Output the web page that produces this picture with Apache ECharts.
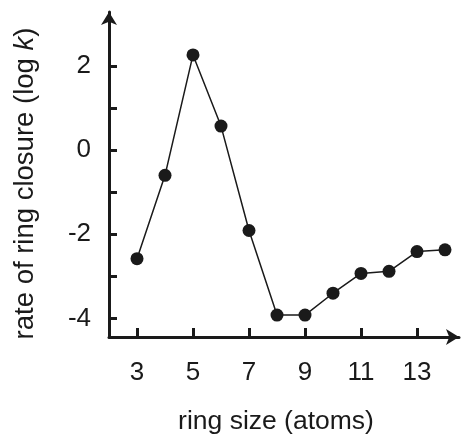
<!DOCTYPE html>
<html>
<head>
<meta charset="utf-8">
<script src="https://cdn.jsdelivr.net/npm/echarts@6/dist/echarts.min.js"></script>
<style>html,body{margin:0;padding:0;background:#fff;}#c{width:461px;height:440px;}</style>
</head>
<body>
<div id="c"></div>
<script>
const ringSize = [3, 4, 5, 6, 7, 8, 9, 10, 11, 12, 13, 14];
const logK = [-2.58, -0.6, 2.26, 0.57, -1.91, -3.92, -3.92, -3.40, -2.93, -2.88, -2.41, -2.37];
const xTickValues = [3, 5, 7, 9, 11, 13];
const yTickValues = [-4, -3, -2, -1, 0, 1, 2];
const yLabelValues = [-4, -2, 0, 2];
const xTitle = 'ring size (atoms)';
const yTitle = 'rate of ring closure (log {i|k})';

const ink = '#1a1a1a';
const font = 'Liberation Sans, Arial, sans-serif';
const chart = echarts.init(document.getElementById('c'));
chart.setOption({
  animation: false,
  grid: { left: 109, right: 2, top: 12, bottom: 96, containLabel: false },
  xAxis: {
    type: 'value', min: 2, max: 14.5,
    name: xTitle, nameLocation: 'middle', nameGap: 71,
    nameTextStyle: { fontFamily: font, fontSize: 26.5, color: ink, padding: [0, 16, 0, 0] },
    axisLine: { show: true, onZero: false, symbol: ['none', 'arrow'], symbolSize: [12, 13], lineStyle: { color: ink, width: 3 } },
    axisTick: { show: true, inside: true, length: 9, customValues: xTickValues, lineStyle: { color: ink, width: 3 } },
    axisLabel: { customValues: xTickValues, fontFamily: font, fontSize: 26, color: ink, margin: 23 },
    splitLine: { show: false }
  },
  yAxis: {
    type: 'value', min: -4.44, max: 3.28,
    name: yTitle, nameLocation: 'middle', nameGap: 70, nameRotate: 90,
    nameTextStyle: { fontFamily: font, fontSize: 27.5, color: ink, padding: [0, 18, 0, 0], rich: { i: { fontStyle: 'italic', fontFamily: font, fontSize: 27.5, color: ink } } },
    axisLine: { show: true, onZero: false, symbol: ['none', 'arrow'], symbolSize: [12, 13], lineStyle: { color: ink, width: 3 } },
    axisTick: { show: true, inside: true, length: 8, customValues: yTickValues, lineStyle: { color: ink, width: 3 } },
    axisLabel: { customValues: yLabelValues, fontFamily: font, fontSize: 26, color: ink, margin: 18 },
    splitLine: { show: false }
  },
  series: [{
    type: 'line',
    data: ringSize.map((x, i) => [x, logK[i]]),
    symbol: 'circle', symbolSize: 13,
    itemStyle: { color: ink },
    lineStyle: { color: ink, width: 1.5 }
  }]
});
</script>
</body>
</html>
